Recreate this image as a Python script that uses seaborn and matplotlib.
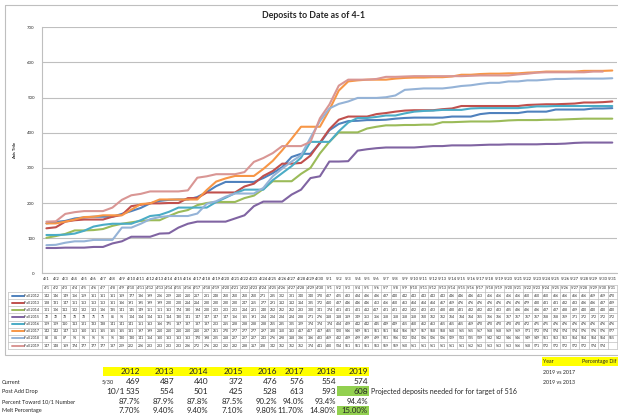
import matplotlib
matplotlib.use("Agg")
import numpy as np
import pandas as pd
import matplotlib.pyplot as plt
import matplotlib.transforms as mtransforms
from matplotlib.patches import Rectangle
import seaborn as sns

# ---- chart data -------------------------------------------------------------
dates = ["4/1", "4/2", "4/3", "4/4", "4/5", "4/6", "4/7", "4/8", "4/9", "4/10",
         "4/11", "4/12", "4/13", "4/14", "4/15", "4/16", "4/17", "4/18", "4/19", "4/20",
         "4/21", "4/22", "4/23", "4/24", "4/25", "4/26", "4/27", "4/28", "4/29", "4/30",
         "5/1", "5/2", "5/3", "5/4", "5/5", "5/6", "5/7", "5/8", "5/9", "5/10",
         "5/11", "5/12", "5/13", "5/14", "5/15", "5/16", "5/17", "5/18", "5/19", "5/20",
         "5/21", "5/22", "5/23", "5/24", "5/25", "5/26", "5/27", "5/28", "5/29", "5/30",
         "5/31"]

fall_2012 = [142, 146, 149, 156, 159, 161, 161, 161, 169, 177, 186, 199, 206, 209, 210,
             210, 217, 231, 248, 260, 260, 260, 260, 271, 285, 302, 331, 340, 340, 370,
             407, 425, 433, 434, 436, 436, 437, 440, 442, 443, 443, 443, 443, 446, 446,
             446, 453, 456, 456, 456, 456, 460, 460, 460, 466, 466, 466, 466, 469, 469,
             470]
fall_2013 = [128, 131, 147, 151, 153, 153, 153, 161, 166, 191, 195, 199, 199, 200, 200,
             214, 214, 230, 230, 230, 230, 247, 255, 277, 291, 312, 312, 314, 335, 372,
             410, 437, 446, 446, 446, 453, 456, 460, 463, 464, 464, 464, 467, 469, 476,
             476, 476, 476, 476, 476, 476, 479, 480, 481, 481, 482, 483, 486, 486, 487,
             489]
fall_2014 = [101, 106, 112, 122, 122, 123, 126, 135, 141, 145, 149, 151, 151, 163, 174,
             180, 194, 200, 203, 203, 203, 214, 221, 240, 262, 262, 262, 283, 300, 341,
             374, 401, 401, 401, 412, 417, 421, 421, 422, 422, 423, 423, 430, 430, 431,
             432, 432, 432, 433, 435, 436, 436, 436, 437, 437, 438, 439, 440, 440, 440,
             440]
fall_2015 = [72, 72, 73, 73, 73, 75, 75, 85, 91, 104, 104, 104, 113, 114, 130,
             141, 147, 147, 147, 147, 156, 165, 191, 204, 204, 204, 224, 238, 271, 276,
             318, 318, 319, 349, 353, 356, 358, 358, 358, 358, 360, 362, 362, 364, 364,
             364, 365, 366, 366, 367, 367, 367, 367, 368, 368, 369, 371, 372, 372, 372,
             372]
fall_2016 = [109, 109, 110, 113, 121, 133, 138, 141, 141, 141, 151, 163, 166, 175, 187,
             187, 187, 187, 203, 215, 228, 238, 238, 238, 265, 285, 305, 329, 374, 374,
             374, 404, 429, 442, 442, 445, 449, 449, 455, 460, 462, 463, 465, 465, 465,
             469, 470, 470, 470, 470, 470, 472, 475, 475, 476, 476, 476, 476, 476, 476,
             476]
fall_2017 = [142, 142, 147, 153, 160, 161, 165, 165, 165, 181, 197, 199, 210, 210, 210,
             210, 210, 237, 261, 270, 277, 277, 277, 297, 320, 350, 383, 417, 417, 417,
             465, 520, 546, 549, 551, 551, 551, 554, 556, 557, 557, 558, 558, 560, 565,
             565, 567, 568, 568, 569, 569, 571, 572, 574, 574, 574, 574, 576, 576, 576,
             577]
fall_2018 = [80, 81, 87, 91, 91, 95, 95, 95, 130, 130, 141, 154, 160, 163, 163,
             163, 170, 198, 205, 218, 227, 227, 227, 243, 276, 298, 318, 336, 386, 433,
             469, 482, 489, 499, 499, 499, 501, 506, 522, 524, 526, 526, 526, 529, 533,
             535, 539, 542, 542, 546, 546, 549, 549, 551, 553, 553, 554, 554, 554, 554,
             555]
fall_2019 = [147, 148, 169, 174, 177, 177, 177, 187, 209, 222, 226, 233, 233, 233, 233,
             236, 272, 276, 282, 282, 282, 288, 317, 328, 342, 362, 362, 362, 374, 441,
             480, 534, 551, 551, 551, 553, 559, 559, 560, 561, 561, 561, 561, 561, 561,
             562, 563, 563, 563, 563, 566, 568, 571, 572, 572, 572, 572, 572, 574, 574]

series_names = ["Fall 2012", "Fall 2013", "Fall 2014", "Fall 2015",
                "Fall 2016", "Fall 2017", "Fall 2018", "Fall 2019"]
series_values = [fall_2012, fall_2013, fall_2014, fall_2015,
                 fall_2016, fall_2017, fall_2018, fall_2019]
colors = ["#4F81BD", "#C0504D", "#9BBB59", "#8064A2",
          "#4BACC6", "#F79646", "#95B3D7", "#D99694"]

# ---- summary table data -----------------------------------------------------
years = ["2012", "2013", "2014", "2015", "2016", "2017", "2018", "2019"]
current = [469, 487, 440, 372, 476, 576, 554, 574]
post_add_drop = [535, 554, 501, 425, 528, 613, 593, 608]
pct_toward = ["87.7%", "87.9%", "87.8%", "87.5%", "90.2%", "94.0%", "93.4%", "94.4%"]
melt_pct = ["7.70%", "9.40%", "9.40%", "7.10%", "9.80%", "11.70%", "14.80%", "15.00%"]
compare_rows = ["2019 vs 2017", "2019 vs 2013"]

rows = []
for name, vals in zip(series_names, series_values):
    for day, v in enumerate(vals):
        rows.append({"Day": day, "Deposits": v, "Series": name})
df = pd.DataFrame(rows)

sns.set_theme(style="white")
plt.rcParams["font.family"] = ["Lato", "DejaVu Sans"]

W, H = 618, 417
fig = plt.figure(figsize=(W / 100, H / 100), dpi=100)

# overlay in pixel coordinates for the table / sheet cells
over = fig.add_axes([0, 0, 1, 1], zorder=0)
over.set_xlim(0, W)
over.set_ylim(H, 0)
over.axis("off")

# chart area border
over.add_patch(Rectangle((5, 5), 640, 350, fill=False, ec="#BFBFBF", lw=0.8))

ax_left, ax_right, ax_top, ax_bot = 41.7, 617, 27.3, 273.3
ax = fig.add_axes([ax_left / W, 1 - ax_bot / H, (ax_right - ax_left) / W,
                   (ax_bot - ax_top) / H], zorder=2)
ax.patch.set_alpha(0)

sns.lineplot(data=df, x="Day", y="Deposits", hue="Series", palette=dict(zip(series_names, colors)),
             linewidth=1.5, legend=False, ax=ax)

ax.set_xlim(-0.5, len(dates) - 0.5)
ax.set_ylim(0, 700)
ax.set_yticks(range(0, 701, 100))
ax.set_xticks(range(len(dates)))
ax.set_xticklabels(dates, fontsize=3)
ax.tick_params(axis="y", labelsize=3.2, length=0, pad=5)
ax.tick_params(axis="x", length=0, pad=3)
ax.yaxis.grid(True, color="#BFBFBF", lw=0.8)
ax.set_axisbelow(True)
ax.set_xlabel("")
ax.set_ylabel("")
for s in ["top", "right"]:
    ax.spines[s].set_visible(False)
ax.spines["left"].set_color("#BFBFBF")
ax.spines["bottom"].set_color("#BFBFBF")
ax.spines["left"].set_linewidth(0.8)
ax.spines["bottom"].set_linewidth(0.8)

fig.text(314 / W, 1 - 16 / H, "Deposits to Date as of 4-1", ha="center", va="center",
         fontsize=6.3, fontweight="bold")
fig.text(15 / W, 1 - 150 / H, "Axis Title", rotation=90, ha="center", va="center",
         fontsize=3, fontweight="bold")

# ---- data table under the plot ---------------------------------------------
tr = mtransforms.blended_transform_factory(ax.transData, over.transData)
head_top, row_h = 284.8, 7.15
n_rows = len(series_names)
table_bot = head_top + row_h * (n_rows + 1)
grid_c = "#BFBFBF"
# horizontal rules
over.plot([ax_left, ax_right], [head_top, head_top], color=grid_c, lw=0.5)
for r in range(1, n_rows + 2):
    y = head_top + r * row_h
    over.plot([8, ax_right], [y, y], color=grid_c, lw=0.5)
over.plot([8, 8], [head_top + row_h, table_bot], color=grid_c, lw=0.5)
for k in range(len(dates) + 1):
    ax.plot([k - 0.5, k - 0.5], [head_top, table_bot], color=grid_c, lw=0.5,
            transform=tr, clip_on=False)
for i, d in enumerate(dates):
    ax.text(i, head_top + row_h / 2, d, transform=tr, ha="center", va="center",
            fontsize=2.6, clip_on=False)
for r, (name, vals, c) in enumerate(zip(series_names, series_values, colors)):
    yc = head_top + (r + 1.5) * row_h
    over.plot([11.5, 23.5], [yc, yc], color=c, lw=1.4)
    over.text(24.5, yc, name, fontsize=2.6, ha="left", va="center")
    for i, v in enumerate(vals):
        ax.text(i, yc, str(v), transform=tr, ha="center", va="center",
                fontsize=2.5, clip_on=False)

# ---- spreadsheet block below the chart ------------------------------------
col_right = [140, 174, 208, 243, 277, 304, 336, 368]
over.add_patch(Rectangle((103.3, 366.7), 265.7, 9.3, color="#FFFF00", lw=0))
over.add_patch(Rectangle((336.7, 386.3), 32.3, 9.7, color="#92D050", lw=0))
over.add_patch(Rectangle((336.7, 405.7), 32.3, 9.5, color="#92D050", lw=0))
over.add_patch(Rectangle((542, 356.5), 76, 9.5, color="#FFFF00", lw=0))

row_y = {"head": 371.5, "cur": 382, "post": 391.5, "pct": 401.5, "melt": 410.8}
for x, yr, cu, po, pc, me in zip(col_right, years, current, post_add_drop, pct_toward, melt_pct):
    over.text(x, row_y["head"], yr, ha="right", va="center", fontsize=6)
    over.text(x, row_y["cur"], str(cu), ha="right", va="center", fontsize=6)
    over.text(x, row_y["post"], str(po), ha="right", va="center", fontsize=6)
    over.text(x, row_y["pct"], pc, ha="right", va="center", fontsize=5.6)
    over.text(x, row_y["melt"], me, ha="right", va="center", fontsize=5.6)

over.text(2, row_y["cur"], "Current", fontsize=4, va="center")
over.text(2, row_y["post"], "Post Add Drop", fontsize=4, va="center")
over.text(2, row_y["pct"], "Percent Toward 10/1 Number", fontsize=4, va="center")
over.text(2, row_y["melt"], "Melt Percentage", fontsize=4, va="center")
over.text(102, row_y["cur"], "5/30", fontsize=4, va="center")
over.text(106, row_y["post"], "10/1", fontsize=6, va="center")
over.text(371, row_y["post"], "Projected deposits needed for for target of 516",
          fontsize=5, va="center")

over.text(543, 361.3, "Year", fontsize=3.8, va="center")
over.text(582, 361.3, "Percentage Dif", fontsize=3.8, va="center")
for k, lab in enumerate(compare_rows):
    over.text(543, 372 + k * 10, lab, fontsize=3.8, va="center")

fig.savefig("out.png", dpi=100)
